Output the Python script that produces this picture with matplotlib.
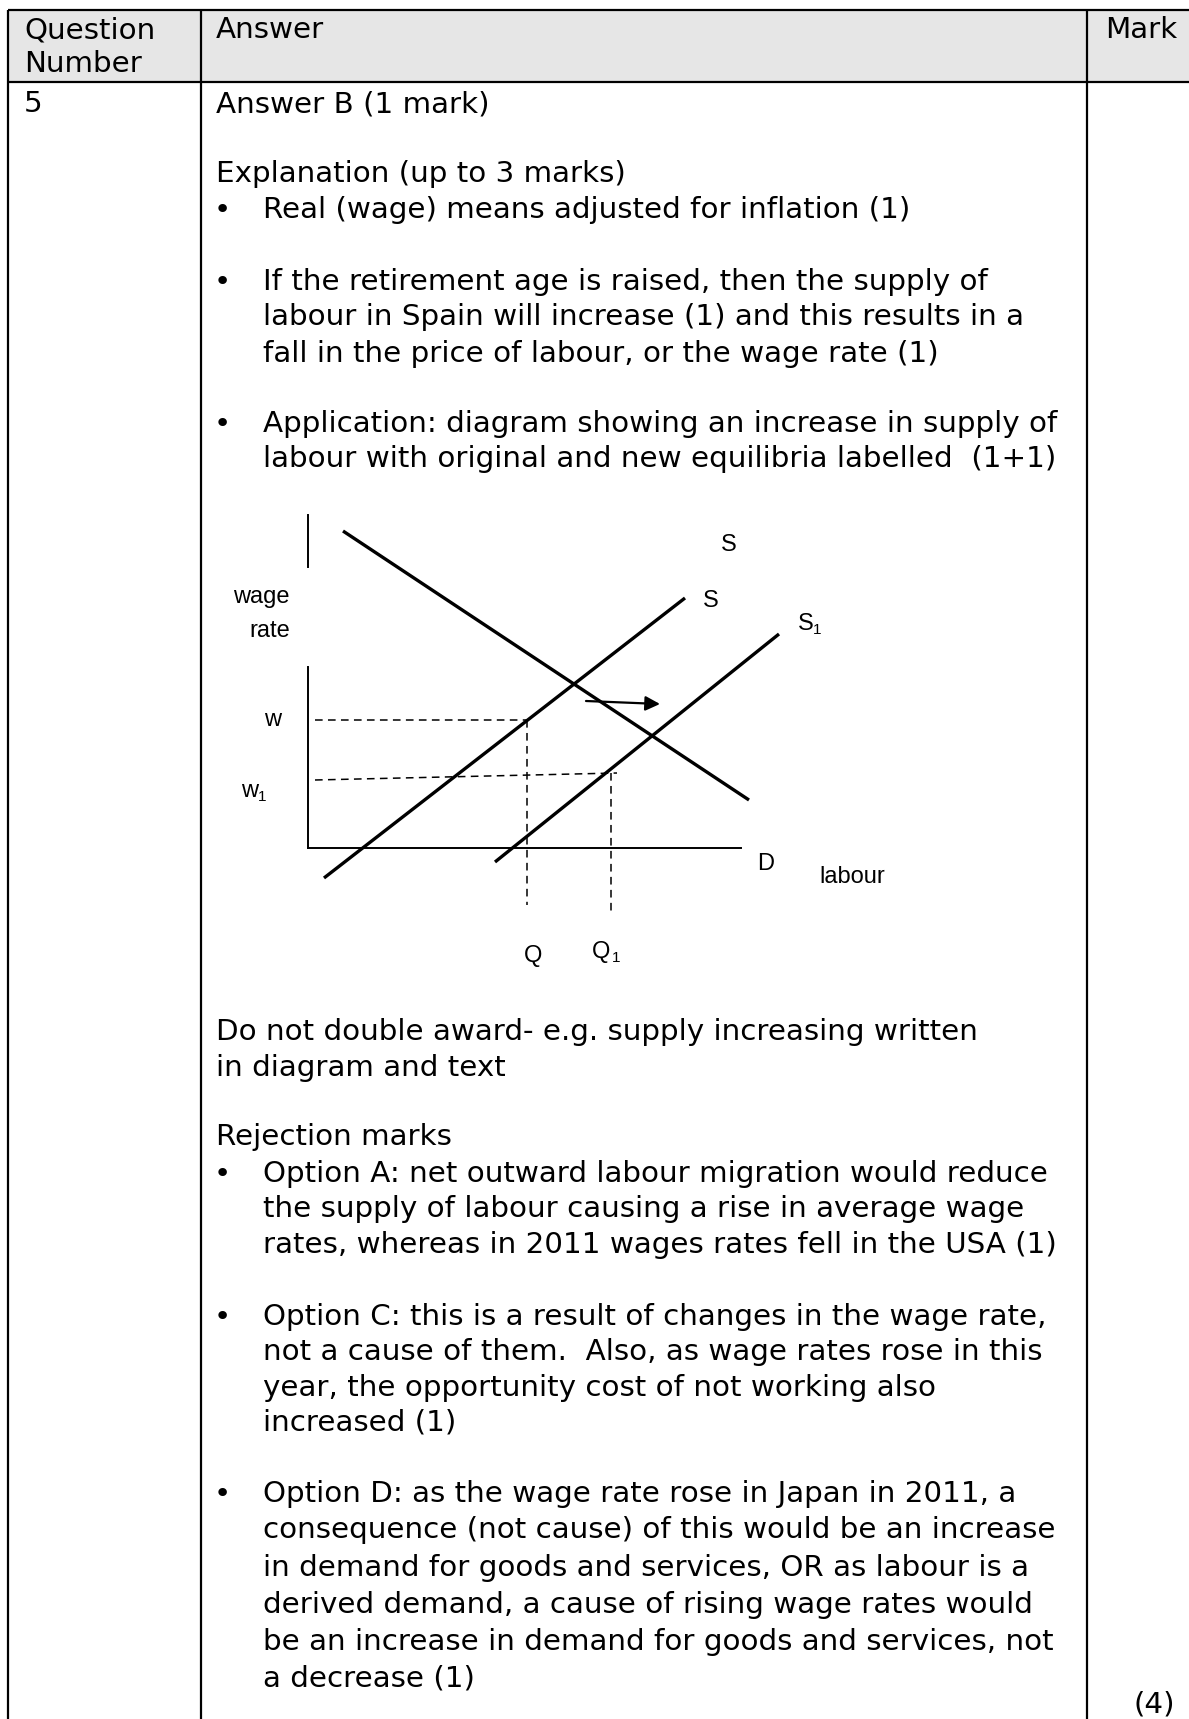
import matplotlib
matplotlib.use('Agg')
import matplotlib.pyplot as plt

plt.rcParams['font.family'] = ['DejaVu Sans']

W, H = 1189, 1719
BODY = 21.2      # pt, body text
DIAG = 17        # pt, diagram labels
SUB = 11         # pt, subscripts in the diagram

# table geometry (pixels)
tab_left, col1, col2 = 8, 201, 1087
tab_top, head_bot = 10, 82

# header cells
head_labels = ['Question\nNumber', 'Answer', 'Mark']
head_x = [24, 216, 1105]

# answer column: (text, baseline, bullet?)
text_x, bullet_x, indent_x = 216, 222, 263
lines = [
    ('Answer B (1 mark)', 112, False),
    ('Explanation (up to 3 marks)', 182, False),
    ('Real (wage) means adjusted for inflation (1)', 218, True),
    ('If the retirement age is raised, then the supply of', 290, True),
    ('labour in Spain will increase (1) and this results in a', 325, None),
    ('fall in the price of labour, or the wage rate (1)', 362, None),
    ('Application: diagram showing an increase in supply of', 432, True),
    ('labour with original and new equilibria labelled  (1+1)', 467, None),
    ('Do not double award- e.g. supply increasing written', 1040, False),
    ('in diagram and text', 1076, False),
    ('Rejection marks', 1145, False),
    ('Option A: net outward labour migration would reduce', 1182, True),
    ('the supply of labour causing a rise in average wage', 1217, None),
    ('rates, whereas in 2011 wages rates fell in the USA (1)', 1253, None),
    ('Option C: this is a result of changes in the wage rate,', 1325, True),
    ('not a cause of them.  Also, as wage rates rose in this', 1360, None),
    ('year, the opportunity cost of not working also', 1396, None),
    ('increased (1)', 1431, None),
    ('Option D: as the wage rate rose in Japan in 2011, a', 1502, True),
    ('consequence (not cause) of this would be an increase', 1538, None),
    ('in demand for goods and services, OR as labour is a', 1576, None),
    ('derived demand, a cause of rising wage rates would', 1613, None),
    ('be an increase in demand for goods and services, not', 1650, None),
    ('a decrease (1)', 1687, None),
]

# diagram (pixel coords)
yaxis_x = 308
yaxis_top = [515, 567]
yaxis_bot = [667, 848]
xaxis_x = [308, 741]
xaxis_y = 848
demand_x, demand_y = [343, 749], [531, 800]
supply_x, supply_y = [324, 685], [878, 598]
supply1_x, supply1_y = [495, 779], [862, 634]
shift_arrow = [(586, 701), (660, 704)]
w_x, w_y = [315, 527], [720, 720]
q_x, q_y = [527, 527], [720, 905]
w1_x, w1_y = [315, 617], [780, 773]
q1_x, q1_y = [611, 611], [773, 915]
diag_labels = [('S', 729, 545), ('S', 711, 601), ('S', 806, 624),
               ('wage', 261, 597), ('rate', 270, 631), ('w', 273, 720),
               ('w', 250, 791), ('D', 766, 864), ('labour', 852, 877),
               ('Q', 533, 956), ('Q', 601, 952)]
sub_labels = [('1', 813, 630), ('1', 258, 797), ('1', 612, 958)]

fig = plt.figure(figsize=(W / 100, H / 100), dpi=100)
ax = fig.add_axes([0, 0, 1, 1])
ax.set_xlim(0, W)
ax.set_ylim(H, 0)
ax.axis('off')

# table
ax.fill_between([tab_left, W], tab_top, head_bot, color='#e6e6e6', lw=0)
lk = dict(color='k', lw=1.6, solid_capstyle='butt')
ax.plot([tab_left, W], [tab_top, tab_top], **lk)
ax.plot([tab_left, W], [head_bot, head_bot], **lk)
for cx in [tab_left, col1, col2]:
    ax.plot([cx, cx], [tab_top, H], **lk)

for lab, hx in zip(head_labels, head_x):
    parts = lab.split('\n')
    ax.text(hx, 38, parts[0], fontsize=BODY, va='baseline')
    if len(parts) > 1:
        ax.text(hx, 72, parts[1], fontsize=BODY, va='baseline')

ax.text(24, 112, '5', fontsize=BODY, va='baseline')
for txt, yb, bul in lines:
    if bul is False:
        ax.text(text_x, yb, txt, fontsize=BODY, va='baseline')
    else:
        if bul:
            ax.text(bullet_x, yb, '\u2022', fontsize=BODY, va='baseline', ha='center')
        ax.text(indent_x, yb, txt, fontsize=BODY, va='baseline')
ax.text(1133, 1712, '(4)', fontsize=BODY, va='baseline')

# diagram
ax.plot([yaxis_x, yaxis_x], yaxis_top, color='k', lw=1.4)
ax.plot([yaxis_x, yaxis_x], yaxis_bot, color='k', lw=1.4)
ax.plot(xaxis_x, [xaxis_y, xaxis_y], color='k', lw=1.4)
for xs, ys in [(demand_x, demand_y), (supply_x, supply_y), (supply1_x, supply1_y)]:
    ax.plot(xs, ys, color='k', lw=2.4, solid_capstyle='butt')
for xs, ys in [(w_x, w_y), (q_x, q_y), (w1_x, w1_y), (q1_x, q1_y)]:
    ax.plot(xs, ys, color='k', lw=1.1, ls=(0, (5, 3.5)))
ax.annotate('', xy=shift_arrow[1], xytext=shift_arrow[0],
            arrowprops=dict(arrowstyle='-|>', color='k', lw=1.6,
                            mutation_scale=22, shrinkA=0, shrinkB=0))
for t, x, y in diag_labels:
    ax.text(x, y, t, fontsize=DIAG, family='Liberation Sans', va='center', ha='center')
for t, x, y in sub_labels:
    ax.text(x, y, t, fontsize=SUB, family='Liberation Sans', va='center', ha='left')

fig.savefig('out.png', dpi=100)
